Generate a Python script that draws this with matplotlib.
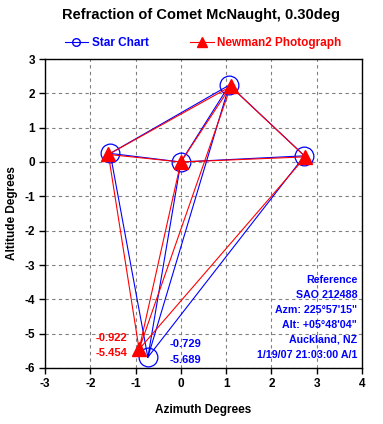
import matplotlib
matplotlib.use("Agg")
import matplotlib.pyplot as plt
from matplotlib.lines import Line2D

plt.rcParams['font.family'] = ['Liberation Sans', 'DejaVu Sans']
plt.rcParams['font.weight'] = 'bold'
plt.rcParams['axes.unicode_minus'] = False

# Star positions (A, B, C, D, E)
star_az = [-1.56, 0.0, 1.07, 2.73, -0.729]
star_alt = [0.25, 0.0, 2.24, 0.18, -5.689]
photo_az = [-1.60, 0.0, 1.10, 2.75, -0.922]
photo_alt = [0.22, 0.0, 2.20, 0.15, -5.454]
# order in which the points are connected
path = [0, 2, 3, 4, 0, 1, 2, 4, 1, 3]

xticks = [-3, -2, -1, 0, 1, 2, 3, 4]
yticks = [-6, -5, -4, -3, -2, -1, 0, 1, 2, 3]

ref_lines = ["Reference", "SAO 212488", "Azm: 225\u00b057'15\"",
             "Alt: +05\u00b048'04\"", "Auckland, NZ", "1/19/07 21:03:00 A/1"]

fig = plt.figure(figsize=(3.83, 4.24), dpi=100)
ax = fig.add_axes([45/383, 1-368/424, (362-45)/383, (368-59)/424])

blue = '#0000ff'
red = '#ff0000'

sx = [star_az[i] for i in path]
sy = [star_alt[i] for i in path]
px = [photo_az[i] for i in path]
py = [photo_alt[i] for i in path]

ax.plot(sx, sy, color=blue, lw=0.8, zorder=3)
ax.plot(star_az, star_alt, ls='none', marker='o', ms=13.5, mfc='none',
        mec=blue, mew=0.9, zorder=4)
ax.plot(px, py, color=red, lw=0.8, zorder=5)
ax.plot(photo_az, photo_alt, ls='none', marker='^', ms=10, color=red,
        zorder=6)

ax.set_xlim(xticks[0], xticks[-1])
ax.set_ylim(yticks[0], yticks[-1])
ax.set_xticks(xticks)
ax.set_yticks(yticks)
ax.tick_params(direction='out', length=4, width=1, labelsize=8.5, pad=3)
for lab in ax.get_xticklabels() + ax.get_yticklabels():
    lab.set_fontweight('bold')
ax.grid(True, ls=(0, (3, 3)), color='#808080', lw=0.8)
ax.set_axisbelow(True)
for s in ax.spines.values():
    s.set_linewidth(1.0)

ax.set_xlabel("Azimuth Degrees", fontsize=8.5, fontweight='bold', labelpad=10)
ax.set_ylabel("Altitude Degrees", fontsize=8.5, fontweight='bold', labelpad=5)

fig.text(201/383, 1-15/424, "Refraction of Comet McNaught, 0.30deg",
         ha='center', va='center', fontsize=10.5, fontweight='bold')

# legend
h1 = Line2D([], [], color=blue, lw=0.8, marker='o', ms=5.5, mfc='none', mec=blue)
h2 = Line2D([], [], color=red, lw=0.8, marker='^', ms=7)
leg = fig.legend([h1, h2], ["Star Chart", "Newman2 Photograph"], ncol=2,
                 loc='center', bbox_to_anchor=(0.530, 1-43/424), frameon=False,
                 fontsize=8.5, handlelength=2.0, handletextpad=0.3,
                 columnspacing=3.5)
for t, c in zip(leg.get_texts(), [blue, red]):
    t.set_color(c)
    t.set_fontweight('bold')

# point annotations
ax.text(photo_az[4] - 0.25, photo_alt[4] + 0.33, f"{photo_az[4]:.3f}", color=red,
        ha='right', va='center', fontsize=8, fontweight='bold')
ax.text(photo_az[4] - 0.25, photo_alt[4] - 0.11, f"{photo_alt[4]:.3f}", color=red,
        ha='right', va='center', fontsize=8, fontweight='bold')
ax.text(star_az[4] + 0.47, star_alt[4] + 0.39, f"{star_az[4]:.3f}", color=blue,
        ha='left', va='center', fontsize=8, fontweight='bold')
ax.text(star_az[4] + 0.47, star_alt[4] - 0.08, f"{star_alt[4]:.3f}", color=blue,
        ha='left', va='center', fontsize=8, fontweight='bold')

# reference block
for k, line in enumerate(ref_lines):
    ax.text(0.985, 1 - (280 - 59 + k * 15) / 309, line, transform=ax.transAxes,
            ha='right', va='center', color=blue, fontsize=7.7, fontweight='bold')

fig.savefig("out.png", dpi=100)
